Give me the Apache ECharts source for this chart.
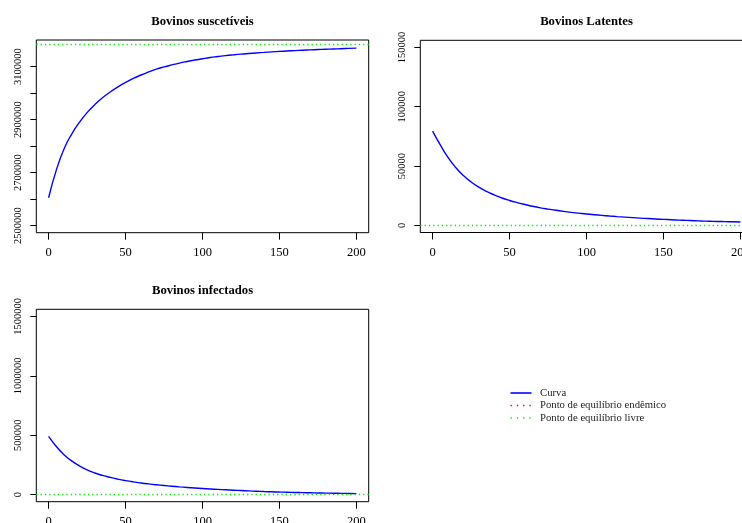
<!DOCTYPE html>
<html>
<head>
<meta charset="utf-8">
<script src="https://cdn.jsdelivr.net/npm/echarts@6/dist/echarts.min.js"></script>
<style>
  html, body { margin: 0; padding: 0; background: #ffffff; }
  #chart { width: 742px; height: 523px; }
</style>
</head>
<body>
<div id="chart"></div>
<script>
// Simulated herd compartments over time (days)
const times = [0, 5, 10, 15, 20, 25, 30, 35, 40, 45, 50, 55, 60, 65, 70, 75, 80, 85, 90, 95, 100,
               105, 110, 115, 120, 125, 130, 135, 140, 145, 150, 155, 160, 165, 170, 175, 180, 185, 190, 195, 200];
const suscetiveis = [2605000, 2709000, 2789000, 2845000, 2889000, 2926000, 2956000, 2982000, 3004000, 3023000,
                     3040000, 3055000, 3068000, 3079500, 3090000, 3098500, 3106000, 3113000, 3119000, 3124500,
                     3129500, 3134000, 3137500, 3141000, 3144000, 3146700, 3149000, 3151200, 3153200, 3155200,
                     3157000, 3158600, 3160100, 3161500, 3162800, 3164000, 3165100, 3166200, 3167200, 3168300, 3169400];
const latentes = [79500, 67800, 57300, 48800, 42000, 36600, 32300, 28700, 25700, 23100,
                  21000, 19200, 17600, 16100, 14800, 13700, 12700, 11800, 11000, 10300,
                  9600, 9000, 8450, 7900, 7400, 6950, 6500, 6100, 5750, 5400,
                  5050, 4750, 4450, 4200, 3950, 3700, 3500, 3300, 3150, 3000, 2850];
const infectados = [490000, 405000, 336000, 283500, 241500, 208000, 181700, 161200, 144400, 130000,
                    117600, 106900, 97700, 89700, 82600, 76300, 70400, 65000, 60000, 55400,
                    51100, 47100, 43400, 40000, 36800, 33700, 30800, 28000, 25300, 23200,
                    21200, 19400, 17800, 16300, 14900, 13600, 12400, 11300, 10300, 9300, 8400];

// Disease-free equilibrium for each compartment
const equilibrioLivre = [3183000, 0, 0];

const panelTitles = ['Bovinos suscetíveis', 'Bovinos Latentes', 'Bovinos infectados'];
const legendLabels = ['Curva', 'Ponto de equilíbrio endêmico', 'Ponto de equilíbrio livre'];

// Axis limits and ticks
const xLimits = [-8, 208];
const xTicks = [0, 50, 100, 150, 200];
const yLimits = [[2473000, 3200000], [-6000, 156000], [-60000, 1560000]];
const yTicks = [
  [2500000, 2600000, 2700000, 2800000, 2900000, 3000000, 3100000],
  [0, 50000, 100000, 150000],
  [0, 500000, 1000000, 1500000]
];
const yTickLabels = [
  [2500000, 2700000, 2900000, 3100000],
  [0, 50000, 100000, 150000],
  [0, 500000, 1000000, 1500000]
];

const seriesValues = [suscetiveis, latentes, infectados];

const FONT = "'Liberation Serif', 'DejaVu Serif', serif";
const BLUE = '#0000ff';
const GREEN = '#00ee00';
const RED = '#ff0000';

// Plot-box placement of each panel
const boxes = [
  { left: 36.3, top: 40, width: 332.4, height: 192.7 },
  { left: 420.3, top: 40.3, width: 332.4, height: 192.2 },
  { left: 36.3, top: 309.3, width: 332.4, height: 192.4 }
];

const grids = [], xAxes = [], yAxes = [], series = [], graphics = [];

boxes.forEach((b, i) => {
  grids.push({
    left: b.left, top: b.top, width: b.width, height: b.height,
    show: true, borderColor: '#000', borderWidth: 1, backgroundColor: 'transparent',
    containLabel: false, outerBoundsMode: 'none'
  });
  xAxes.push({
    type: 'value', gridIndex: i, min: xLimits[0], max: xLimits[1], position: 'bottom',
    axisLine: { show: false, onZero: false }, splitLine: { show: false },
    axisTick: { show: true, inside: false, length: 7, customValues: xTicks, lineStyle: { color: '#000', width: 1 } },
    axisLabel: {
      customValues: xTicks, fontSize: 12.5, fontFamily: FONT, color: '#000', margin: 14,
      formatter: v => String(v)
    }
  });
  yAxes.push({
    type: 'value', gridIndex: i, min: yLimits[i][0], max: yLimits[i][1], position: 'left',
    axisLine: { show: false, onZero: false }, splitLine: { show: false },
    axisTick: { show: true, inside: false, length: 6, customValues: yTicks[i], lineStyle: { color: '#000', width: 1 } },
    axisLabel: {
      customValues: yTickLabels[i], rotate: 90, fontSize: 10.5, fontFamily: FONT, color: '#000', margin: 13,
      formatter: v => String(v)
    }
  });
  series.push({
    type: 'line', name: legendLabels[0], xAxisIndex: i, yAxisIndex: i,
    data: times.map((t, k) => [t, seriesValues[i][k]]),
    showSymbol: false, symbol: 'none', smooth: 0.5,
    lineStyle: { color: BLUE, width: 1.4 }, z: 3,
    markLine: {
      silent: true, symbol: ['none', 'none'], label: { show: false },
      lineStyle: { color: GREEN, width: 1.3, type: [1.3, 3] },
      emphasis: { disabled: true },
      data: [{ yAxis: equilibrioLivre[i] }]
    }
  });
  graphics.push({
    type: 'text', x: b.left + b.width / 2, y: b.top - 18.5,
    style: {
      text: panelTitles[i], align: 'center', verticalAlign: 'middle',
      font: "bold 12.7px " + FONT, fill: '#000'
    }
  });
});

// Legend in the empty fourth panel
const legendStyles = [
  { stroke: BLUE, lineWidth: 1.6 },
  { stroke: RED, lineWidth: 1.4, lineDash: [1.4, 4.9] },
  { stroke: GREEN, lineWidth: 1.4, lineDash: [1.4, 4.9] }
];
const legendRows = [393, 405.5, 418];
legendLabels.forEach((label, k) => {
  graphics.push({
    type: 'line', shape: { x1: 510.5, y1: legendRows[k], x2: 531.5, y2: legendRows[k] },
    style: legendStyles[k]
  });
  graphics.push({
    type: 'text', x: 540, y: legendRows[k],
    style: { text: label, align: 'left', verticalAlign: 'middle', font: "10.7px " + FONT, fill: '#222' }
  });
});

const chart = echarts.init(document.getElementById('chart'), null, { renderer: 'canvas' });
chart.setOption({
  animation: false,
  backgroundColor: '#ffffff',
  grid: grids,
  xAxis: xAxes,
  yAxis: yAxes,
  series: series,
  graphic: graphics
});
</script>
</body>
</html>
